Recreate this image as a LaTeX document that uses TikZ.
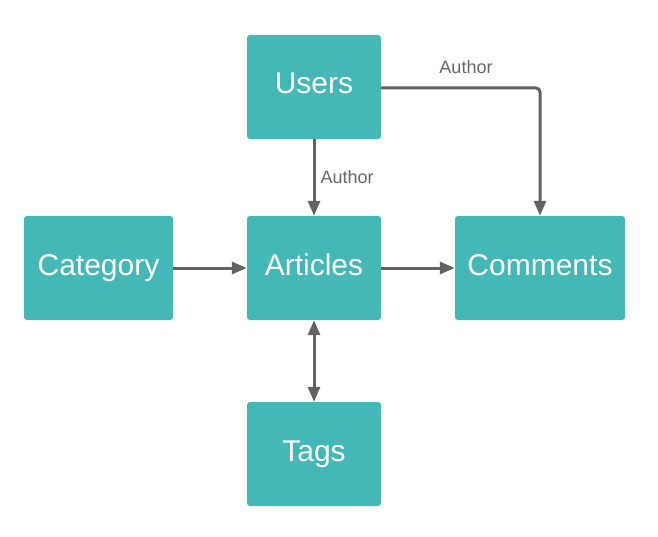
\documentclass[tikz,border=0pt]{standalone}
\usepackage{fontspec}
\setmainfont{Liberation Sans}
\usetikzlibrary{arrows.meta}
\definecolor{teal1}{HTML}{44B7B7}
\definecolor{arrowgray}{HTML}{626262}
\definecolor{labelgray}{HTML}{666666}
\begin{document}
\begin{tikzpicture}[x=1pt,y=-1pt,
  box/.style={fill=teal1,draw=none,rounded corners=3pt,inner sep=0pt},
  boxtext/.style={text=white,font=\fontsize{30}{33}\selectfont,anchor=base,inner sep=0pt},
  conn/.style={draw=arrowgray,line width=3pt,-{Triangle[length=15pt,width=12pt]}},
  lab/.style={text=labelgray,font=\fontsize{18}{20}\selectfont,inner sep=1pt}]
\useasboundingbox (0,0) rectangle (658,537);
\node[box,minimum width=134pt,minimum height=104pt] (users) at (314,87) {};
\node[boxtext] at (314,94) {Users};
\node[box,minimum width=134pt,minimum height=104pt] (articles) at (314,268) {};
\node[boxtext] at (314,275) {Articles};
\node[box,minimum width=149pt,minimum height=104pt] (category) at (98.5,268) {};
\node[boxtext] at (98.5,275) {Category};
\node[box,minimum width=170pt,minimum height=104pt] (comments) at (540,268) {};
\node[boxtext] at (540,275) {Comments};
\node[box,minimum width=134pt,minimum height=104pt] (tags) at (314,454) {};
\node[boxtext] at (314,461) {Tags};
\draw[conn] (users) -- node[lab,right,xshift=4pt] {Author} (articles);
\draw[conn,rounded corners=4pt] (users.east |- 0,88) -| (comments.north);
\node[lab] at (466,67) {Author};
\draw[conn] (category) -- (articles);
\draw[conn] (articles) -- (comments);
\draw[conn,{Triangle[length=15pt,width=12pt]}-{Triangle[length=15pt,width=12pt]}] (articles) -- (tags);
\end{tikzpicture}
\end{document}
